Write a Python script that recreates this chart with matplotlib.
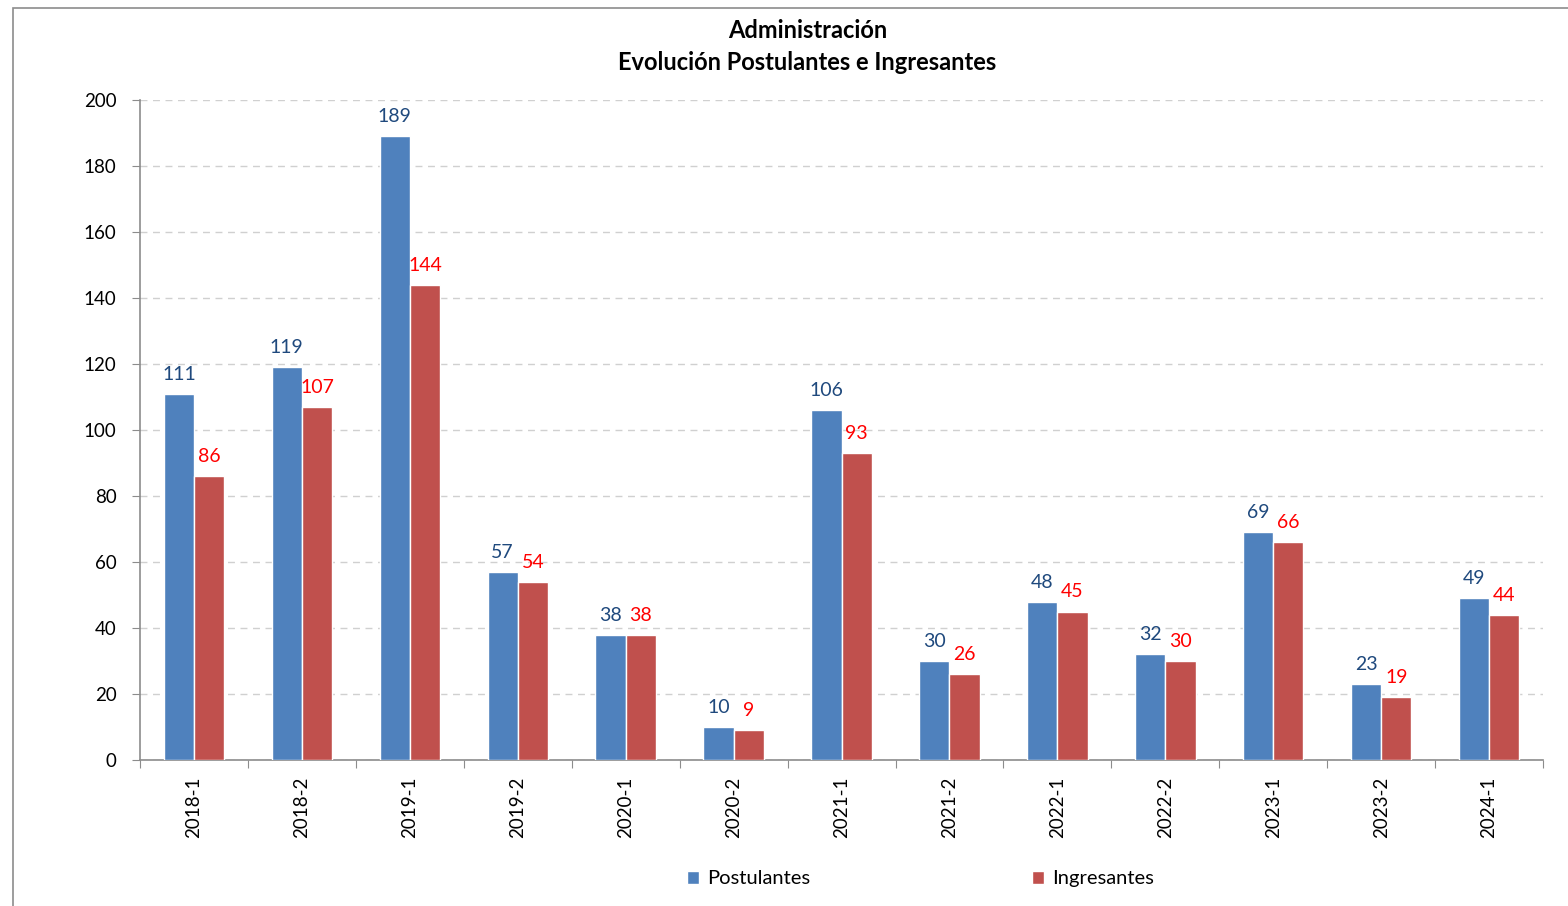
import matplotlib.pyplot as plt
import numpy as np
from matplotlib.patches import Rectangle

plt.rcParams['font.family'] = ['Lato', 'DejaVu Sans']

# Chart data
periodos = ['2018-1', '2018-2', '2019-1', '2019-2', '2020-1', '2020-2', '2021-1',
            '2021-2', '2022-1', '2022-2', '2023-1', '2023-2', '2024-1']
postulantes = [111, 119, 189, 57, 38, 10, 106, 30, 48, 32, 69, 23, 49]
ingresantes = [86, 107, 144, 54, 38, 9, 93, 26, 45, 30, 66, 19, 44]

azul = '#4F81BD'
rojo = '#C0504D'

fig = plt.figure(figsize=(15.68, 9.06), dpi=100)
ax = fig.add_axes([0.0893, 0.1611, 0.8948, 0.7285])

# Outer chart border (left and top visible)
fig.patches.append(Rectangle((13 / 1568, -0.05), 1.1, 1.05 - 8 / 906,
                             transform=fig.transFigure, fill=False,
                             edgecolor='#8C8C8C', linewidth=1.2))

x = np.arange(len(periodos))
w = 0.28
b1 = ax.bar(x - w / 2, postulantes, w, color=azul, edgecolor='white', linewidth=1, label='Postulantes', zorder=3)
b2 = ax.bar(x + w / 2, ingresantes, w, color=rojo, edgecolor='white', linewidth=1, label='Ingresantes', zorder=3)

# Value labels
for rect, v in zip(b1, postulantes):
    ax.annotate(str(v), (rect.get_x() + rect.get_width() / 2, v), xytext=(0, 8),
                textcoords='offset points', ha='center', va='bottom', fontsize=14, color='#1F497D')
for rect, v in zip(b2, ingresantes):
    ax.annotate(str(v), (rect.get_x() + rect.get_width() / 2, v), xytext=(0, 8),
                textcoords='offset points', ha='center', va='bottom', fontsize=14, color='#FF0000')

ax.set_xlim(-0.5, len(periodos) - 0.5)
ax.set_ylim(0, 200)
ax.set_yticks(range(0, 201, 20))
ax.tick_params(axis='y', labelsize=13.5, length=6, color='#8C8C8C', pad=11)

# x ticks at category boundaries, labels centered
ax.set_xticks(np.arange(-0.5, len(periodos)), minor=False)
ax.set_xticklabels([])
ax.set_xticks(x, minor=True)
ax.set_xticklabels(periodos, minor=True, rotation=90, fontsize=13.5)
ax.tick_params(axis='x', which='major', length=6, color='#8C8C8C')
ax.tick_params(axis='x', which='minor', length=0, pad=12)

ax.grid(axis='y', linestyle=(0, (5, 4)), color='#D0D0D0', linewidth=1, zorder=0)
for s in ['top', 'right']:
    ax.spines[s].set_visible(False)
for s in ['left', 'bottom']:
    ax.spines[s].set_color('#8C8C8C')
    ax.spines[s].set_linewidth(1.2)

fig.text(0.515, 0.966, 'Administración', ha='center', va='center', fontsize=17, fontweight='bold')
fig.text(0.515, 0.931, 'Evolución Postulantes e Ingresantes', ha='center', va='center', fontsize=17, fontweight='bold')

fig.legend(handles=[b1, b2], labels=['Postulantes', 'Ingresantes'], loc='center',
           bbox_to_anchor=(0.587, 0.030), ncol=2, frameon=False, fontsize=14.5,
           handlelength=0.6, handleheight=0.6, handletextpad=0.4, columnspacing=11.0)

fig.savefig('out.png', dpi=100)
